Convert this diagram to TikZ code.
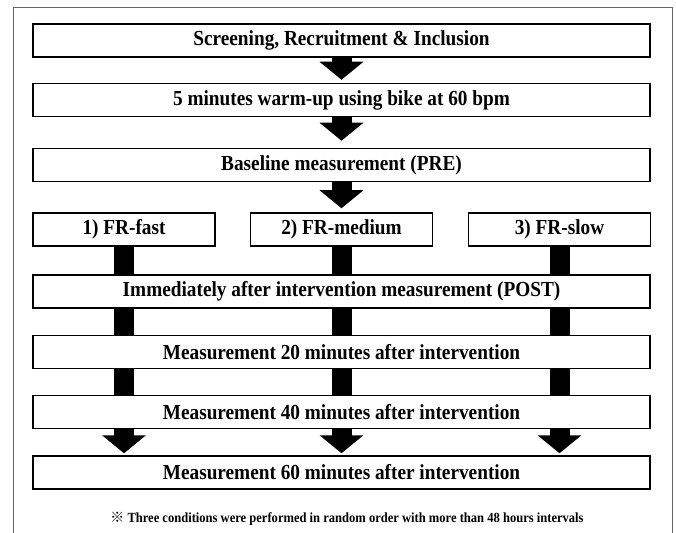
\documentclass[tikz,border=0pt]{standalone}
\usepackage{fontspec}
\setmainfont{Liberation Serif}
\newfontfamily\boxfont[FakeStretch=0.9]{Liberation Serif}
\newfontfamily\refmark{Noto Sans CJK JP}
\usetikzlibrary{arrows.meta}

\begin{document}
\begin{tikzpicture}[x=1bp,y=-1bp,
    box/.style={draw, line width=1.5bp, minimum height=33bp, inner sep=0pt,
      font=\boxfont\fontsize{21.5}{24}\selectfont\bfseries},
    wide/.style={box, minimum width=617bp},
    narrow/.style={box, minimum width=182bp},
    flow/.style={line width=20bp, -{Triangle[width=43bp,length=18bp]}},
    bar/.style={line width=20bp}]
  \useasboundingbox (0,0) rectangle (676,533);
  % frame, open at the bottom
  \draw[gray!80!black, line width=1bp] (13,533) |- (672,8) -- (672,533);

  % common steps
  \node[wide] (scr)  at (341.5,40.5)  {Screening, Recruitment \& Inclusion};
  \node[wide] (warm) at (341.5,100)   {5 minutes warm-up using bike at 60 bpm};
  \node[wide] (base) at (341.5,165)   {Baseline measurement (PRE)};

  % conditions
  \node[narrow] (fast) at (124,229.5)   {1) FR-fast};
  \node[narrow] (med)  at (341.5,229.5) {2) FR-medium};
  \node[narrow] (slow) at (559.5,229.5) {3) FR-slow};

  % measurements
  \node[wide] (post) at (341.5,291.5) {Immediately after intervention measurement (POST)};
  \node[wide] (m20)  at (341.5,352)   {Measurement 20 minutes after intervention};
  \node[wide] (m40)  at (341.5,412)   {Measurement 40 minutes after intervention};
  \node[wide] (m60)  at (341.5,472.5) {Measurement 60 minutes after intervention};

  \node[font=\boxfont\fontsize{14}{16}\selectfont\bfseries] (note) at (347,519)
    {{\refmark ※} Three conditions were performed in random order with more than 48 hours intervals};

  % arrows
  \draw[flow, shorten >=3bp] (scr) -- (warm);
  \draw[flow, shorten >=7bp] (warm) -- (base);
  \draw[flow, shorten >=4bp] (base) -- (med);
  \foreach \c in {fast,med,slow}{
    \draw[bar] (\c) -- (\c |- post.north);
    \draw[bar] (\c |- post.south) -- (\c |- m20.north);
    \draw[bar] (\c |- m20.south) -- (\c |- m40.north);
    \draw[flow, shorten >=2bp] (\c |- m40.south) -- (\c |- m60.north);
  }
\end{tikzpicture}
\end{document}
